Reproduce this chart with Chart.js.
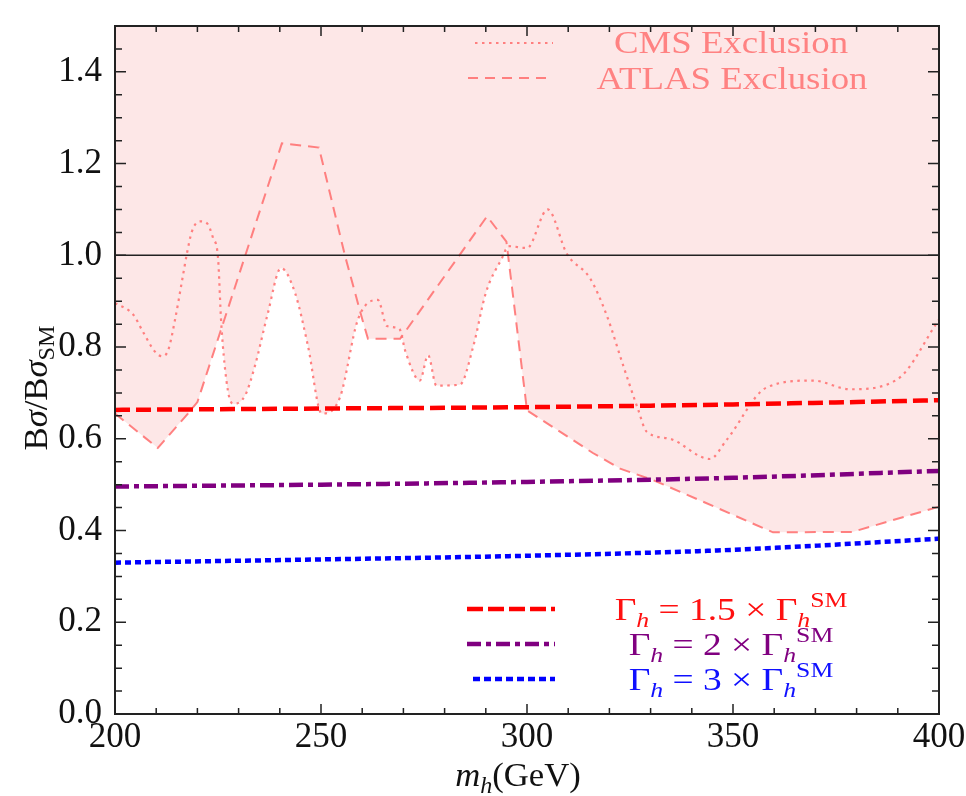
<!DOCTYPE html>
<html>
<head>
<meta charset="utf-8">
<script src="https://cdn.jsdelivr.net/npm/chart.js@4.4.0/dist/chart.umd.min.js"></script>
<style>
body { margin: 0; background: #fff; }
#c { display: block; }
</style>
</head>
<body>
<canvas id="c" width="966" height="796"></canvas>
<script>
// CMS observed exclusion (dotted)
const cmsX = [200, 204.4, 206.8, 209.7, 211.4, 212.9, 214.6, 216.3, 217.5, 218.7, 220.6, 222.3, 223.8, 225, 225.8, 227.4, 228.8, 231.6, 234, 237, 240.3, 243.7, 246.8, 250.2, 254.6, 259, 263.8, 266, 269, 270.5, 274, 276, 278, 283.7, 287, 290, 294, 295.5, 300, 305, 309.7, 315.3, 319.4, 323.3, 327, 329, 334.7, 344.4, 348.5, 358.2, 369.4, 378.4, 389.8, 400];
const cmsY = [0.896, 0.871, 0.833, 0.79, 0.78, 0.793, 0.861, 0.946, 1.006, 1.053, 1.074, 1.07, 1.038, 0.995, 0.85, 0.705, 0.676, 0.695, 0.76, 0.87, 0.972, 0.918, 0.804, 0.655, 0.69, 0.861, 0.903, 0.846, 0.84, 0.79, 0.727, 0.782, 0.716, 0.718, 0.803, 0.918, 0.995, 1.02, 1.016, 1.10, 1.003, 0.95, 0.868, 0.761, 0.663, 0.616, 0.60, 0.556, 0.598, 0.712, 0.727, 0.708, 0.729, 0.86];

// ATLAS observed exclusion (dashed)
const atlasX = [200, 210.4, 217.7, 220, 240.5, 249.5, 255.8, 260, 261.4, 269.2, 290.3, 295, 300, 316, 322.6, 330.6, 342.7, 359.7, 379, 400];
const atlasY = [0.655, 0.58, 0.655, 0.68, 1.244, 1.235, 1.0, 0.861, 0.818, 0.818, 1.085, 1.03, 0.662, 0.569, 0.535, 0.51, 0.463, 0.396, 0.397, 0.452];

// predictions for enhanced widths
const massX = [200, 250, 300, 350, 400];
const gamma15Y = [0.663, 0.666, 0.669, 0.675, 0.684];
const gamma2Y = [0.496, 0.500, 0.506, 0.515, 0.530];
const gamma3Y = [0.330, 0.337, 0.345, 0.358, 0.382];

const smX = [200, 400];
const smY = [1, 1];

const xTicks = [200, 250, 300, 350, 400];
const yTicks = [0, 0.2, 0.4, 0.6, 0.8, 1.0, 1.2, 1.4];

const pts = (xs, ys) => xs.map((x, i) => ({x: x, y: ys[i]}));

const serif = '"Liberation Serif", "Times New Roman", Times, serif';
const pinkLine = 'rgba(255,115,115,0.9)';
const pinkFill = '#fde7e7';

// rich text: segments drawn one after another, centered on cx
function drawRich(ctx, segs, cx, base, size, sx, color) {
  const fontOf = s => (s.it ? 'italic ' : '') + Math.round(s.sub || s.sup ? size * 0.7 : size) + 'px ' + serif;
  let total = 0;
  segs.forEach(s => { ctx.font = fontOf(s); s.w = ctx.measureText(s.t).width * sx; total += s.w; });
  let x = cx - total / 2;
  ctx.fillStyle = color;
  ctx.textBaseline = 'alphabetic';
  ctx.textAlign = 'left';
  segs.forEach(s => {
    const dy = s.sub ? size * 0.22 : s.sup ? -size * 0.42 : 0;
    ctx.save();
    ctx.translate(x, base + dy);
    ctx.scale(sx, 1);
    ctx.font = fontOf(s);
    ctx.fillText(s.t, 0, 0);
    ctx.restore();
    x += s.w;
  });
}

function sample(ctx, x0, x1, y, color, width, dash) {
  ctx.save();
  ctx.strokeStyle = color;
  ctx.lineWidth = width;
  ctx.setLineDash(dash);
  ctx.beginPath();
  ctx.moveTo(x0, y);
  ctx.lineTo(x1, y);
  ctx.stroke();
  ctx.restore();
}

const framePlugin = {
  id: 'frame',
  afterDatasetsDraw(chart) {
    const {ctx, chartArea: a, scales: {x, y}} = chart;
    ctx.save();
    ctx.strokeStyle = '#222';
    ctx.lineWidth = 1.5;
    ctx.beginPath();
    for (let v = 200; v <= 400; v += 10) {
      const px = x.getPixelForValue(v);
      const len = v % 50 === 0 ? 10 : 6;
      ctx.moveTo(px, a.bottom); ctx.lineTo(px, a.bottom - len);
      ctx.moveTo(px, a.top); ctx.lineTo(px, a.top + len);
    }
    for (let k = 0; k <= 30; k++) {
      const py = y.getPixelForValue(k * 0.05);
      const len = k % 4 === 0 ? 11 : 7;
      ctx.moveTo(a.left, py); ctx.lineTo(a.left + len, py);
      ctx.moveTo(a.right, py); ctx.lineTo(a.right - len, py);
    }
    ctx.stroke();
    ctx.lineWidth = 2;
    ctx.strokeRect(a.left, a.top, a.right - a.left, a.bottom - a.top);
    ctx.restore();
  }
};

const textPlugin = {
  id: 'texts',
  afterDraw(chart) {
    const ctx = chart.ctx;
    // top legend
    sample(ctx, 475, 553, 43, pinkLine, 2, [2.5, 4.5]);
    sample(ctx, 468, 553, 78, pinkLine, 1.8, [10, 7]);
    drawRich(ctx, [{t: 'CMS Exclusion'}], 731, 53, 32, 1.15, '#ff8282');
    drawRich(ctx, [{t: 'ATLAS Exclusion'}], 732, 89, 32, 1.15, '#ff8282');
    // bottom legend
    sample(ctx, 467, 555, 609, '#ff0000', 4.5, [16, 5]);
    sample(ctx, 467, 555, 644, '#800080', 4.5, [14, 5, 5, 5]);
    sample(ctx, 473, 555, 679, '#0000ff', 4.5, [7, 4]);
    const g = f => [{t: 'Γ'}, {t: 'h', it: true, sub: true}, {t: ' = ' + f + ' × Γ'}, {t: 'h', it: true, sub: true}, {t: 'SM', sup: true}];
    drawRich(ctx, g('1.5'), 731, 620, 32, 1.17, '#ff1010');
    drawRich(ctx, g('2'), 731, 655, 32, 1.17, '#800080');
    drawRich(ctx, g('3'), 731, 690, 32, 1.17, '#1010ff');
    // axis titles
    drawRich(ctx, [{t: 'm', it: true}, {t: 'h', it: true, sub: true}, {t: '(GeV)'}], 518, 786, 33, 1.05, '#111');
    ctx.save();
    ctx.translate(47, 388);
    ctx.rotate(-Math.PI / 2);
    drawRich(ctx, [{t: 'B'}, {t: 'σ', it: true}, {t: '/B'}, {t: 'σ', it: true}, {t: 'SM', sub: true}], 0, 0, 33, 1.05, '#111');
    ctx.restore();
  }
};

new Chart(document.getElementById('c'), {
  type: 'line',
  data: {
    datasets: [
      {data: pts(massX, gamma15Y), borderColor: '#ff0000', borderWidth: 4.5, borderDash: [15, 6], cubicInterpolationMode: 'monotone', order: 0},
      {data: pts(massX, gamma2Y), borderColor: '#800080', borderWidth: 4.5, borderDash: [14, 5, 5, 5], cubicInterpolationMode: 'monotone', order: 1},
      {data: pts(massX, gamma3Y), borderColor: '#0000ff', borderWidth: 4.5, borderDash: [6, 4], cubicInterpolationMode: 'monotone', order: 2},
      {data: pts(smX, smY), borderColor: '#222', borderWidth: 1.5, order: 3},
      {data: pts(cmsX, cmsY), borderColor: pinkLine, borderWidth: 2.2, borderDash: [2.5, 4.5], cubicInterpolationMode: 'monotone', fill: 'end', backgroundColor: pinkFill, order: 4},
      {data: pts(atlasX, atlasY), borderColor: pinkLine, borderWidth: 2, borderDash: [11, 7], fill: 'end', backgroundColor: pinkFill, order: 5}
    ]
  },
  options: {
    responsive: false,
    animation: false,
    elements: {point: {radius: 0}},
    layout: {padding: {top: 10, right: 27, left: 0, bottom: 0}},
    plugins: {
      legend: {display: false},
      tooltip: {enabled: false},
      filler: {drawTime: 'beforeDatasetsDraw'}
    },
    scales: {
      x: {
        type: 'linear', min: 200, max: 400,
        grid: {display: false}, border: {display: false},
        afterBuildTicks: s => { s.ticks = xTicks.map(v => ({value: v})); },
        afterFit: s => { s.height = 82; },
        ticks: {color: '#111', padding: -5, maxRotation: 0, font: {family: serif, size: 35}}
      },
      y: {
        type: 'linear', min: 0, max: 1.5,
        grid: {display: false}, border: {display: false},
        afterBuildTicks: s => { s.ticks = yTicks.map(v => ({value: v})); },
        afterFit: s => { s.width = 115; },
        ticks: {color: '#111', padding: 5, font: {family: serif, size: 35}, callback: v => v.toFixed(1)}
      }
    }
  },
  plugins: [framePlugin, textPlugin]
});
</script>
</body>
</html>
